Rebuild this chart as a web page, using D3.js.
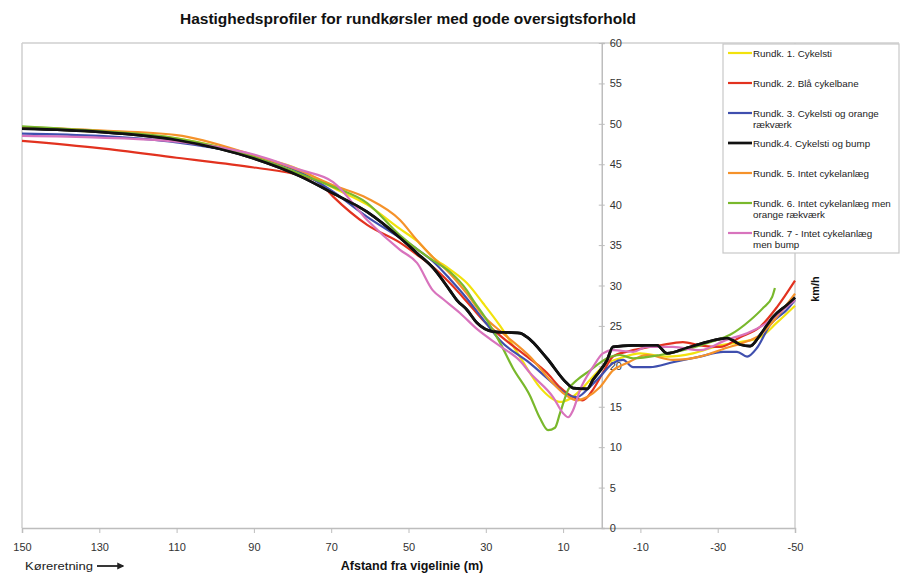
<!DOCTYPE html>
<html>
<head>
<meta charset="utf-8">
<script src="https://cdn.jsdelivr.net/npm/d3@7"></script>
<style>
  body { margin: 0; background: #fff; }
  svg { font-family: "Liberation Sans", Arial, sans-serif; }
</style>
</head>
<body>
<svg id="chart" width="905" height="575"></svg>
<script>
// --- data: [afstand (m), hastighed (km/h)] ---
const rundk1 = [[150,49.5],[130,49.0],[110,48.2],[90,46.0],[78,44.3],[70,42.2],[60.7,40.0],[52.2,37.0],[47.8,35.5],[43.7,33.5],[39.3,32.0],[34.9,30.3],[30.7,27.8],[26.3,25.0],[21.2,21.2],[16,17.4],[13.4,16.2],[10.8,15.6],[8.2,16.0],[5.6,17.0],[2.3,18.7],[-1.4,20.4],[-4.7,21.0],[-9.9,21.6],[-16.9,21.2],[-23.6,21.6],[-30.6,22.6],[-35.8,23.0],[-41,23.6],[-45.3,25.4],[-50,27.5]];
const rundk2 = [[150,47.9],[130,47.0],[110,45.8],[90,44.6],[78,43.6],[73,42.7],[69.5,41.0],[60.7,37.5],[52.2,35.3],[47.8,33.8],[43.7,32.3],[39.3,30.3],[34.9,28.0],[30.7,25.7],[26.3,23.8],[19.3,21.2],[14.2,19.2],[10.8,17.4],[7.4,16.2],[4.9,15.8],[2.3,17.1],[-0.3,19.2],[-2.9,21.2],[-6.5,21.8],[-8.1,22.0],[-15.1,22.6],[-21,23.0],[-25.4,22.6],[-30.6,22.4],[-35.8,23.6],[-41,24.9],[-45.3,27.3],[-50,30.6]];
const rundk3 = [[150,48.8],[130,48.5],[110,47.7],[90,46.0],[78,44.0],[69.5,41.6],[60.7,38.5],[52.2,35.9],[47.8,34.5],[43.7,33.0],[39.3,30.8],[34.9,28.4],[30.7,25.8],[26.3,23.2],[18.6,20.4],[12.6,17.9],[9,16.5],[6.4,16.2],[3.8,17.1],[0.5,18.7],[-2.9,20.4],[-5.5,20.8],[-8.1,19.9],[-12.5,19.9],[-18.4,20.5],[-25.4,21.2],[-31.4,21.8],[-35,21.8],[-37.6,21.2],[-40.2,22.3],[-43.5,25.1],[-47.9,27.0],[-50,28.2]];
const rundk4 = [[150,49.4],[130,49.0],[110,48.0],[90,45.7],[78,43.5],[69.5,41.4],[60.7,39.1],[52.2,35.9],[47.8,34.0],[43.7,32.2],[39.3,29.4],[37.5,28.2],[34.9,27.0],[32.3,25.4],[28.1,24.3],[21.2,24.1],[19.3,23.6],[14.2,21.0],[9,17.9],[7.4,17.3],[3.8,17.2],[2.3,18.3],[-1.4,20.8],[-2.9,22.4],[-8.1,22.6],[-14.3,22.6],[-16.9,21.6],[-22.1,22.3],[-27.2,23.0],[-32.4,23.5],[-35.8,22.7],[-38.4,22.5],[-41,23.9],[-44.3,26.1],[-47.9,27.6],[-50,28.5]];
const rundk5 = [[150,49.6],[130,49.2],[110,48.6],[90,46.1],[78,44.2],[69.5,42.4],[60.7,40.8],[52.2,38.1],[47.8,35.6],[43.7,33.5],[39.3,31.5],[34.9,29.0],[30.7,26.3],[25.6,24.1],[18.6,21.2],[12.6,17.9],[10,16.7],[6.4,15.8],[3.8,16.2],[0.5,17.4],[-2.9,19.5],[-6.5,20.4],[-11.7,21.4],[-18.4,20.8],[-25.4,21.2],[-32.4,22.3],[-36.5,22.9],[-41,23.9],[-45.3,26.1],[-50,29.0]];
const rundk6 = [[150,49.7],[130,49.1],[110,48.2],[90,45.9],[78,43.8],[69.5,42.2],[60.7,40.2],[52.2,36.2],[47.8,34.5],[43.7,33.1],[39.3,31.7],[34.9,29.4],[33.3,28.2],[29.7,25.7],[26.3,22.9],[23,19.8],[18.6,16.4],[16,13.6],[13.9,12.1],[12.1,12.4],[10.8,14.2],[8.7,17.1],[6.4,18.3],[3,19.5],[-1.4,21.0],[-4.7,21.4],[-8.1,21.0],[-15.1,21.4],[-21,22.0],[-28,23.0],[-33.2,23.9],[-38.4,25.7],[-41.7,27.2],[-44.1,28.6],[-44.8,29.7]];
const rundk7 = [[150,48.5],[130,48.3],[110,47.8],[90,46.2],[78,44.3],[69.5,42.8],[60.7,38.1],[52.2,34.4],[47.8,32.8],[43.7,29.4],[41,28.3],[36.7,26.6],[32,24.5],[26.3,22.5],[21,20.6],[18.6,19.2],[12.6,16.2],[10,14.2],[8.7,13.7],[7.4,14.6],[5.6,17.1],[2.3,19.9],[-0.3,21.6],[-2.9,22.0],[-8.1,21.8],[-11.7,22.4],[-18.4,22.4],[-25.4,22.0],[-32.4,23.3],[-37.6,24.1],[-42.8,25.4],[-46.9,27.0],[-50,28.2]];

const seriesData = [rundk1, rundk2, rundk3, rundk4, rundk5, rundk6, rundk7];
const seriesNames = [
  ["Rundk. 1. Cykelsti"],
  ["Rundk. 2. Blå cykelbane"],
  ["Rundk. 3. Cykelsti og orange", "rækværk"],
  ["Rundk.4. Cykelsti og bump"],
  ["Rundk. 5. Intet cykelanlæg"],
  ["Rundk. 6. Intet cykelanlæg men", "orange rækværk"],
  ["Rundk. 7 - Intet cykelanlæg", "men bump"]
];
const xTicks = [150, 130, 110, 90, 70, 50, 30, 10, -10, -30, -50];
const yTicks = [0, 5, 10, 15, 20, 25, 30, 35, 40, 45, 50, 55, 60];

// styles
const colors = ["#f2e20c", "#e2321f", "#3f4fae", "#111111", "#f5922a", "#79b82c", "#d873bd"];
const widths = [2.2, 2.2, 2.2, 2.7, 2.2, 2.2, 2.2];

const svg = d3.select("#chart");

const x = d3.scaleLinear().domain([150, -50]).range([22, 795]);
const y = d3.scaleLinear().domain([0, 60]).range([528, 43]);

// plot frame
const frame = svg.append("g").attr("stroke", "#cfcfcf").attr("stroke-width", 1.5);
frame.append("line").attr("x1", 22).attr("x2", 899).attr("y1", 43).attr("y2", 43);
frame.append("line").attr("x1", 22).attr("x2", 22).attr("y1", 43).attr("y2", 528);
frame.append("line").attr("x1", 795).attr("x2", 795).attr("y1", 43).attr("y2", 528);

// x axis
const xAxis = svg.append("g")
  .attr("transform", "translate(0,528)")
  .call(d3.axisBottom(x).tickValues(xTicks).tickSize(5).tickPadding(10).tickFormat(d => String(d)));
xAxis.select(".domain").attr("stroke", "#bdbdbd").attr("stroke-width", 1.5);
xAxis.selectAll(".tick line").attr("stroke", "#bdbdbd");
xAxis.selectAll("text").attr("font-size", 11).attr("fill", "#333").attr("font-family", "Liberation Sans, Arial, sans-serif");

// y axis at x = 0
const yAxis = svg.append("g")
  .attr("transform", `translate(${x(0)},0)`)
  .call(d3.axisRight(y).tickValues(yTicks).tickSize(3).tickPadding(5));
yAxis.select(".domain").attr("stroke", "#bdbdbd").attr("stroke-width", 1.5);
yAxis.selectAll(".tick line").attr("stroke", "#bdbdbd").attr("x1", -3);
yAxis.selectAll("text").attr("font-size", 11).attr("fill", "#333").attr("font-family", "Liberation Sans, Arial, sans-serif");

// lines
const line = d3.line()
  .x(d => x(d[0]))
  .y(d => y(d[1]))
  .curve(d3.curveMonotoneX);

svg.append("g")
  .attr("fill", "none")
  .selectAll("path")
  .data(seriesData)
  .enter()
  .append("path")
  .attr("stroke", (d, i) => colors[i])
  .attr("stroke-width", (d, i) => widths[i])
  .attr("stroke-linejoin", "round")
  .attr("d", line);

// black on top, as in the reference
svg.append("path")
  .datum(rundk4)
  .attr("fill", "none")
  .attr("stroke", colors[3])
  .attr("stroke-width", widths[3])
  .attr("d", line);

// legend
const legend = svg.append("g").attr("class", "legend");
legend.append("rect")
  .attr("x", 723).attr("y", 44).attr("width", 176).attr("height", 209)
  .attr("fill", "#fff").attr("stroke", "#c8c8c8").attr("stroke-width", 1.2);

const items = legend.selectAll(".item")
  .data(seriesNames)
  .enter()
  .append("g")
  .attr("class", "item")
  .attr("transform", (d, i) => `translate(0,${53 + i * 30})`);

items.append("line")
  .attr("x1", 728).attr("x2", 752)
  .attr("stroke", (d, i) => colors[i])
  .attr("stroke-width", (d, i) => widths[i]);

items.each(function (d) {
  const t = d3.select(this).append("text")
    .attr("x", 753).attr("y", 3.5)
    .attr("font-size", 9.8).attr("fill", "#222");
  d.forEach((s, k) => {
    t.append("tspan").attr("x", 753).attr("dy", k === 0 ? 0 : 11).text(s);
  });
});

// titles
svg.append("text")
  .attr("x", 408).attr("y", 24)
  .attr("text-anchor", "middle")
  .attr("font-size", 14.5).attr("font-weight", "bold").attr("fill", "#111")
  .attr("textLength", 456).attr("lengthAdjust", "spacingAndGlyphs")
  .text("Hastighedsprofiler for rundkørsler med gode oversigtsforhold");

svg.append("text")
  .attr("x", 412).attr("y", 570)
  .attr("text-anchor", "middle")
  .attr("font-size", 12.5).attr("font-weight", "bold").attr("fill", "#111")
  .text("Afstand fra vigelinie (m)");

svg.append("text")
  .attr("x", 25).attr("y", 570)
  .attr("font-size", 11.5).attr("fill", "#222")
  .attr("textLength", 68).attr("lengthAdjust", "spacingAndGlyphs")
  .text("Køreretning");

// direction arrow
svg.append("defs").append("marker")
  .attr("id", "arrow")
  .attr("viewBox", "0 0 10 10")
  .attr("refX", 8).attr("refY", 5)
  .attr("markerWidth", 4).attr("markerHeight", 4)
  .attr("orient", "auto")
  .append("path").attr("d", "M0,0L10,5L0,10z").attr("fill", "#222");
svg.append("line")
  .attr("x1", 97).attr("x2", 123).attr("y1", 566).attr("y2", 566)
  .attr("stroke", "#222").attr("stroke-width", 1.8)
  .attr("marker-end", "url(#arrow)");

svg.append("text")
  .attr("transform", "translate(819,289) rotate(-90)")
  .attr("text-anchor", "middle")
  .attr("font-size", 11).attr("font-weight", "bold").attr("fill", "#111")
  .text("km/h");
</script>
</body>
</html>
